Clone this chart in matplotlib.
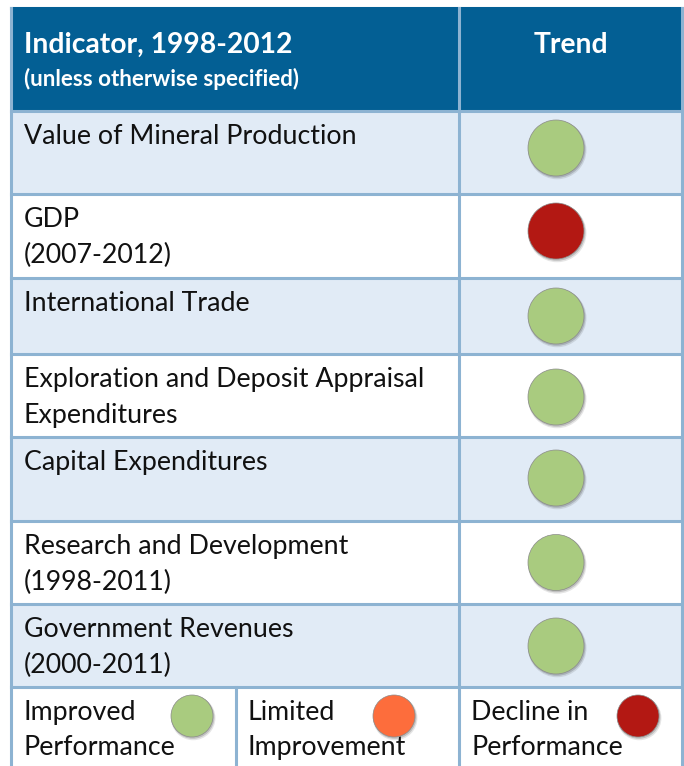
import matplotlib
matplotlib.use("Agg")
import matplotlib.pyplot as plt
from matplotlib.patches import Rectangle, Ellipse

# ---------------- data ----------------
header_title = "Indicator, 1998-2012"
header_sub = "(unless otherwise specified)"
header_trend = "Trend"
indicators = [
    ["Value of Mineral Production"],
    ["GDP", "(2007-2012)"],
    ["International Trade"],
    ["Exploration and Deposit Appraisal", "Expenditures"],
    ["Capital Expenditures"],
    ["Research and Development", "(1998-2011)"],
    ["Government Revenues", "(2000-2011)"],
]
trends = ["improved", "decline", "improved", "improved", "improved", "improved", "improved"]
legend_keys = ["improved", "limited", "decline"]
legend_labels = [["Improved", "Performance"], ["Limited", "Improvement"], ["Decline in", "Performance"]]
trend_colors = {"improved": "#A9CB7F", "limited": "#FD6D3C", "decline": "#B31813"}

# ---------------- style ----------------
W, H = 684, 766
HEADER_BG = "#035F94"
ROW_LIGHT = "#E1EBF6"
ROW_WHITE = "#FFFFFF"
BORDER = "#8DB3D2"
FONT = ["Lato", "DejaVu Sans"]

fig = plt.figure(figsize=(W / 100, H / 100), dpi=100)
ax = fig.add_axes([0, 0, 1, 1])
ax.set_xlim(0, W)
ax.set_ylim(H, 0)
ax.axis("off")

left, right, mid = 11, 682, 459
top, header_bot = 8, 111
row_edges = [111, 194, 278, 354, 437, 521, 604, 687]
circle_dy = [-4.5, -5, 0, 1.5, -1, 0, 0.5]
legend_bot = 790
legend_divs = [11, 236, 459, 682]

renderer = fig.canvas.get_renderer()


def fit_size(text, target_px, weight="normal"):
    t = ax.text(0, 0, text, fontsize=10, family=FONT, weight=weight)
    w = t.get_window_extent(renderer=renderer).width
    t.remove()
    return 10 * target_px / w


# header
ax.add_patch(Rectangle((left, top), right - left, header_bot - top, facecolor=HEADER_BG, edgecolor="none", zorder=1))
fs_title = fit_size(header_title, 269, "bold")
fs_sub = fit_size(header_sub, 276, "bold")
ax.text(24, 53, header_title, color="white", fontsize=fs_title, weight="bold", family=FONT, va="baseline", ha="left", zorder=3)
ax.text(24, 86, header_sub, color="white", fontsize=fs_sub, weight="bold", family=FONT, va="baseline", ha="left", zorder=3)
ax.text((mid + right) / 2, 53, header_trend, color="white", fontsize=fs_title, weight="bold", family=FONT, va="baseline", ha="center", zorder=3)

fs_row = fit_size("Exploration and Deposit Appraisal", 401)


def trend_circle(cx, cy, r, color):
    ax.add_patch(Ellipse((cx + 1.2, cy + 2.0), 2 * r + 2.5, 2 * r + 2.5, facecolor="#000000", alpha=0.10, edgecolor="none", zorder=4))
    ax.add_patch(Ellipse((cx + 0.8, cy + 1.2), 2 * r + 1.2, 2 * r + 1.2, facecolor="#000000", alpha=0.16, edgecolor="none", zorder=4))
    ax.add_patch(Ellipse((cx, cy), 2 * r, 2 * r, facecolor=trend_colors[color], edgecolor="#8a8a8a", linewidth=0.5, zorder=5))


# rows
for i, (lines, tr) in enumerate(zip(indicators, trends)):
    y0, y1 = row_edges[i], row_edges[i + 1]
    bg = ROW_LIGHT if i % 2 == 0 else ROW_WHITE
    ax.add_patch(Rectangle((left, y0), right - left, y1 - y0, facecolor=bg, edgecolor="none", zorder=1))
    for j, line in enumerate(lines):
        ax.text(24, y0 + 33 + 36 * j, line, fontsize=fs_row, family=FONT, color="#111111", va="baseline", ha="left", zorder=3)
    trend_circle(556, (y0 + y1) / 2 + circle_dy[i], 28, tr)

# legend row
ly0 = row_edges[-1]
ax.add_patch(Rectangle((left, ly0), right - left, legend_bot - ly0, facecolor="white", edgecolor="none", zorder=1))
circle_x = [192, 394, 638]
text_x = [24, 247, 471]
for k, (key, lab) in enumerate(zip(legend_keys, legend_labels)):
    for j, line in enumerate(lab):
        ax.text(text_x[k], 720 + 35 * j, line, fontsize=fs_row, family=FONT, color="#111111", va="baseline", ha="left", zorder=3)
    trend_circle(circle_x[k], 716, 21, key)

# borders
lw = 2.2
for y in [top] + row_edges:
    ax.plot([left, right], [y, y], color=BORDER if y != top else HEADER_BG, lw=lw, zorder=2, solid_capstyle="projecting")
ax.plot([left, left], [top, H + 5], color=BORDER, lw=lw, zorder=2)
ax.plot([right, right], [top, H + 5], color=BORDER, lw=lw, zorder=2)
ax.plot([mid, mid], [top, H + 5], color=BORDER, lw=lw, zorder=2)
ax.plot([236, 236], [ly0, H + 5], color=BORDER, lw=lw, zorder=2)

fig.savefig("out.png", dpi=100)
